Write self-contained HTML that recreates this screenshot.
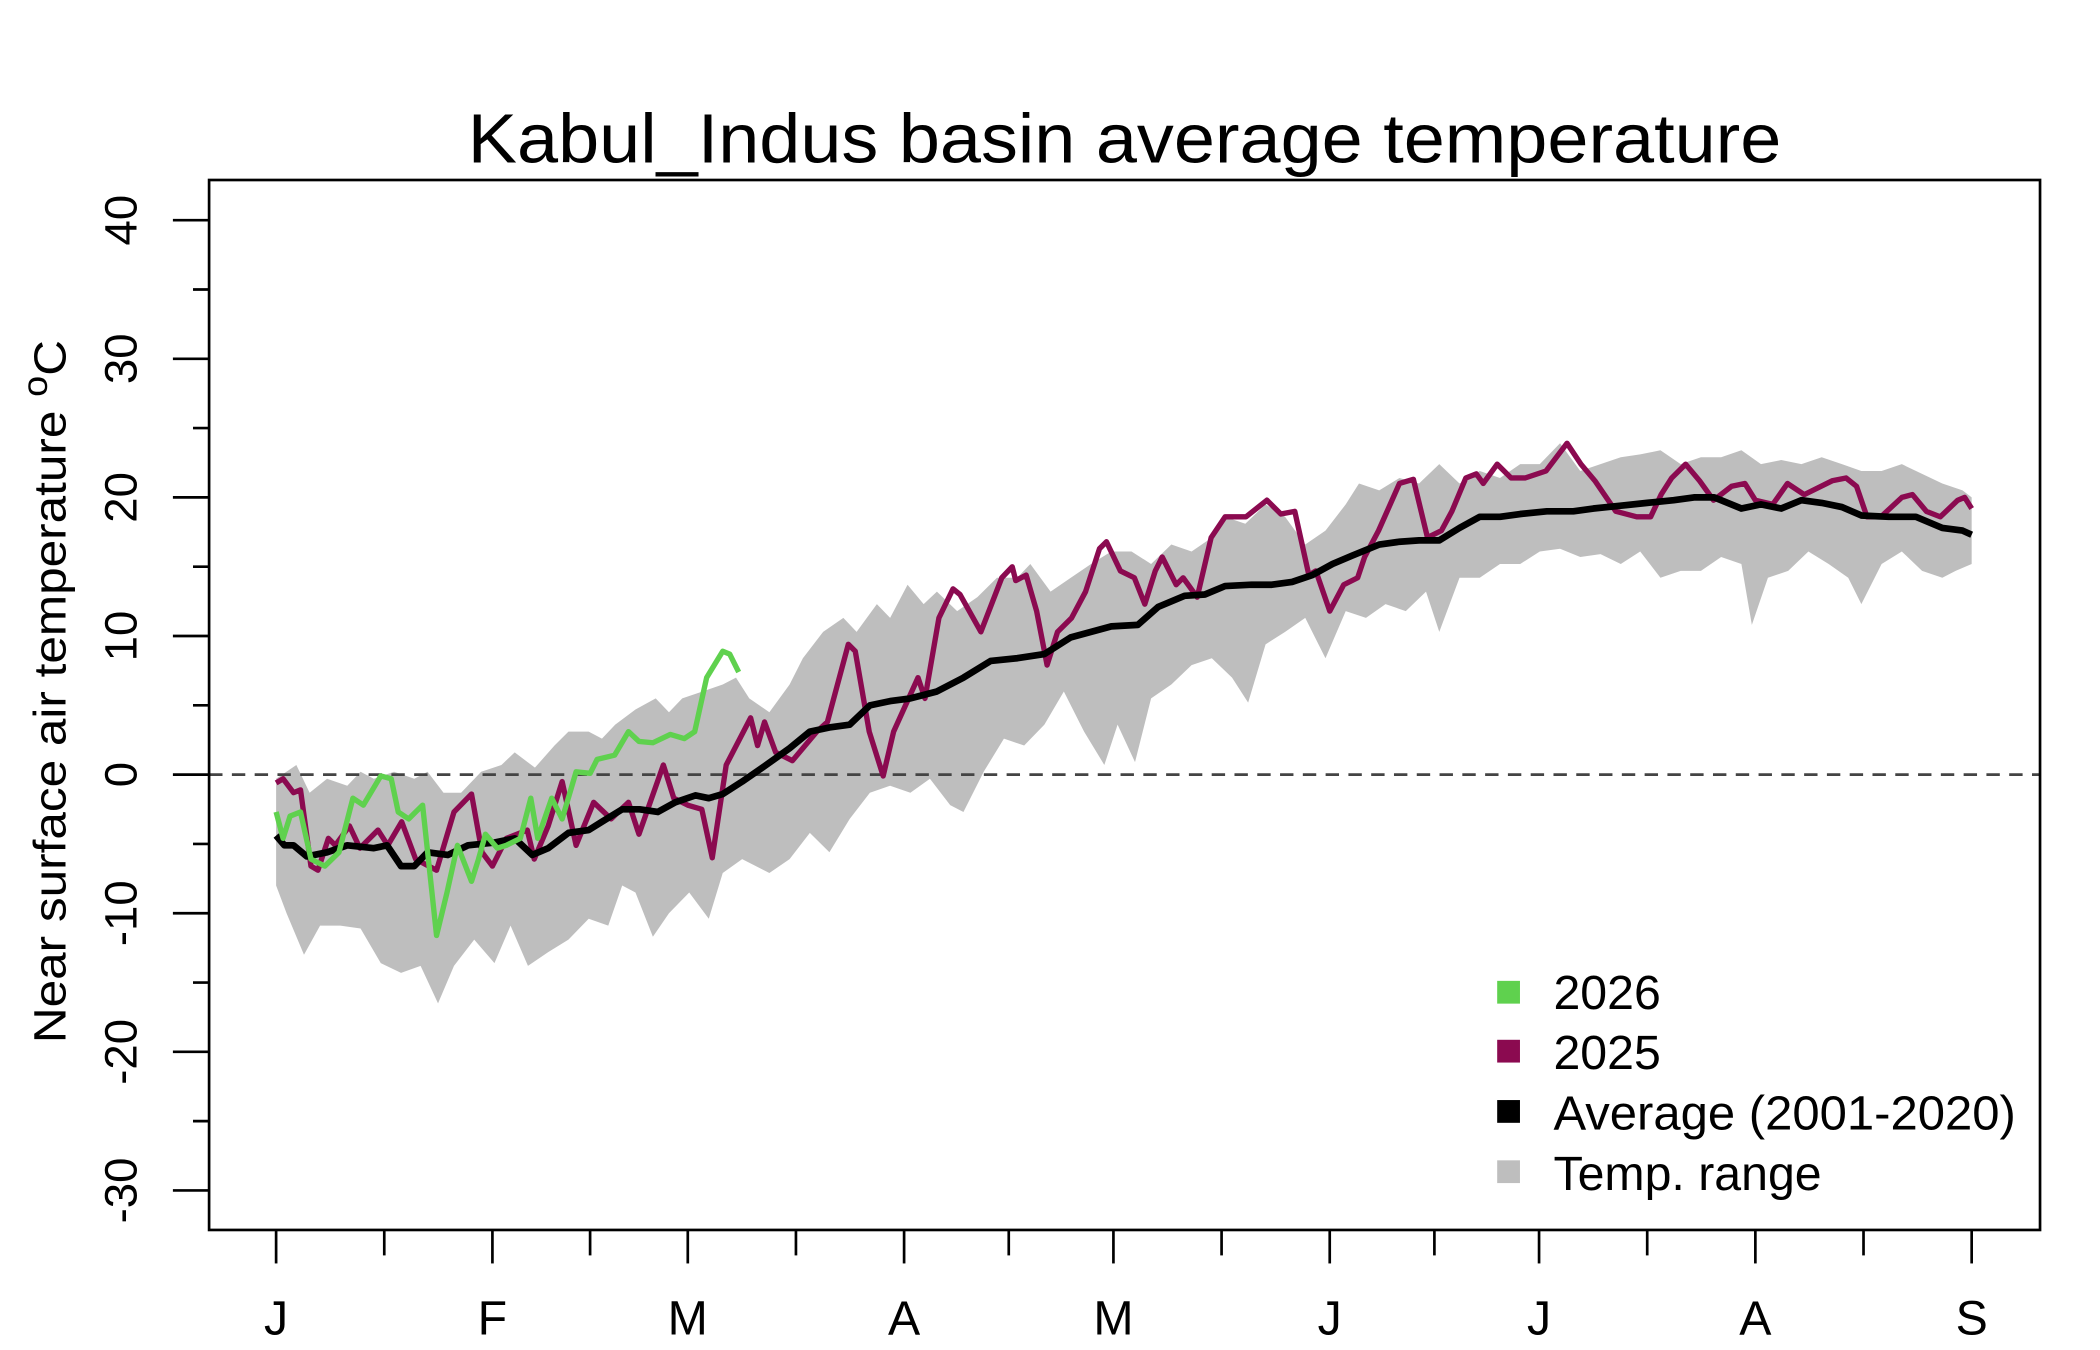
<!DOCTYPE html>
<html><head><meta charset="utf-8"><style>
html,body{margin:0;padding:0;background:#fff;}
svg{display:block;font-family:"Liberation Sans",sans-serif;}
</style></head><body>
<svg id="chart" width="2100" height="1350" viewBox="0 0 1560 1003" preserveAspectRatio="none" xmlns="http://www.w3.org/2000/svg">
<g transform="matrix(0.9957 0 0 0.995 -1 1.4)">
<text x="840" y="120" text-anchor="middle" font-size="52" textLength="980" lengthAdjust="spacingAndGlyphs">Kabul_Indus basin average temperature</text>
<text transform="translate(50,515) rotate(-90)" text-anchor="middle" font-size="34" textLength="525" lengthAdjust="spacingAndGlyphs">Near surface air temperature <tspan dy="-14" font-size="26">o</tspan><tspan dy="14">C</tspan></text>
<g id="band"></g>
<line x1="157" x2="1523" y1="577" y2="577" stroke="#444" stroke-width="2" stroke-dasharray="10,7"/>
<g id="series"></g>
<rect x="157" y="133" width="1366" height="784" fill="none" stroke="#000" stroke-width="2"/>
<g id="yaxis"></g>
<g id="xaxis"></g>
<g font-size="36">
 <g><rect x="1118" y="731" width="17" height="17" fill="#5fd14e"/><text x="1160" y="752">2026</text></g>
 <g><rect x="1118" y="775" width="17" height="17" fill="#8b0a50"/><text x="1160" y="797">2025</text></g>
 <g><rect x="1118" y="820" width="17" height="17" fill="#000"/><text x="1160" y="842" textLength="345" lengthAdjust="spacingAndGlyphs">Average (2001-2020)</text></g>
 <g><rect x="1118" y="865" width="17" height="17" fill="#bebebe"/><text x="1160" y="887">Temp. range</text></g>
</g>
</g>
</svg>
<script>
const monthLabels=["J","F","M","A","M","J","J","A","S"];
const monthStartDays=[0,31,59,90,120,151,181,212,243];
const yTicks=[-30,-20,-10,0,10,20,30,40];
const avgDays=[0,1.2,2.5,4.4,7.3,10.2,14,15.9,17.9,19.8,21.7,24.6,27.5,31.3,34.2,36.7,39,41.9,44.8,46.7,49.6,52.1,54.7,57.2,60.1,62,64,66.8,69.7,73.6,76.5,79.3,82.2,85.1,88,90.9,94.7,98.5,102.4,106.2,110.1,113.9,116.8,119.7,123.5,126.4,130.2,133.1,136,139.8,142.7,145.6,148.5,151.4,154.2,158.1,161,163.8,166.7,169.6,172.5,175.4,178.3,182.1,185.9,188.8,192.7,196.5,200.3,203.2,206.1,210,212.8,215.7,218.6,221.5,224.4,227.2,231.1,235,238.8,241.7,243];
const avgValues=[-4.4,-5.1,-5.1,-5.9,-5.6,-5.1,-5.3,-5.1,-6.6,-6.6,-5.6,-5.8,-5.1,-4.9,-4.6,-5.8,-5.3,-4.2,-4.0,-3.4,-2.5,-2.5,-2.7,-2.0,-1.5,-1.7,-1.4,-0.5,0.5,1.9,3.1,3.4,3.6,5.0,5.3,5.5,6.0,7.0,8.2,8.4,8.7,9.9,10.3,10.7,10.8,12.1,12.9,13.0,13.6,13.7,13.7,13.9,14.4,15.2,15.8,16.6,16.8,16.9,16.9,17.8,18.6,18.6,18.8,19.0,19.0,19.2,19.4,19.6,19.8,20.0,20.0,19.2,19.5,19.2,19.8,19.6,19.3,18.7,18.6,18.6,17.8,17.6,17.3];
const upperDays=[0,2.9,4.8,7.3,10.2,12.1,14,16.9,19.8,21.7,24,26.5,29.4,32.3,34.2,37.1,39.9,41.9,44.8,46.7,48.6,51.5,54.4,56.3,58.2,61.1,64,65.9,67.8,70.7,73.6,75.5,78.4,81.3,83.2,86.1,88,90.5,92.8,94.7,97.6,100.5,103.3,106.2,108.1,111,113.9,116.8,119.7,122.6,125.4,128.3,131.2,134.1,136,138.9,141.8,144.6,147.5,150.4,153.3,155.2,158.1,161,163.8,166.7,169.6,172.5,175.4,178.3,181.1,184,186.9,189.8,192.7,195.5,198.4,201.3,204.2,207.1,210,212.8,215.7,218.6,221.5,224.4,227.2,230.1,233,235.9,238.8,241.7,243];
const upperValues=[-0.3,0.7,-1.3,-0.3,-0.8,0.2,-0.3,0.2,-0.3,0.2,-1.3,-1.3,0.2,0.7,1.6,0.5,2.1,3.1,3.1,2.6,3.6,4.7,5.5,4.5,5.5,6.0,6.5,7.0,5.5,4.5,6.5,8.4,10.3,11.3,10.3,12.3,11.3,13.7,12.3,13.2,11.8,12.8,14.2,14.2,15.2,13.2,14.2,15.2,16.1,16.1,15.2,16.6,16.1,17.1,18.6,18.1,19.5,18.6,16.6,17.6,19.5,21.0,20.5,21.4,21.0,22.4,21.0,21.9,21.4,22.4,22.4,23.9,21.9,22.4,22.9,23.1,23.4,22.4,22.9,22.9,23.4,22.4,22.7,22.4,22.9,22.4,21.9,21.9,22.4,21.7,21.0,20.5,20.0];
const lowerDays=[0,1.5,4,6.3,9.2,12.1,15,17.9,20.7,23.2,25.5,28.4,31.3,33.6,36.1,39,41.9,44.8,47.6,49.6,51.5,54,56.3,59.2,62,64,66.8,70.7,73.6,76.5,79.3,82.2,85.1,88,90.9,93.7,96.6,98.5,101.4,104.3,107.2,110.1,112.9,115.8,118.7,120.6,123.1,125.4,128.3,131.2,134.1,137,139.3,141.8,144.6,147.5,150.4,153.3,156.2,159,161.9,164.8,166.7,169.6,172.5,175.4,178.3,181.1,184,186.9,189.8,192.7,195.5,198.4,201.3,204.2,207.1,210,211.5,213.8,216.7,219.6,222.5,225.3,227.2,230.1,233,235.9,238.8,240.7,243];
const lowerValues=[-8.0,-10.0,-13.0,-10.9,-10.9,-11.1,-13.6,-14.3,-13.8,-16.5,-13.8,-11.9,-13.6,-10.9,-13.8,-12.8,-11.9,-10.4,-10.9,-8.0,-8.5,-11.7,-10.0,-8.5,-10.4,-7.1,-6.1,-7.1,-6.1,-4.2,-5.6,-3.2,-1.3,-0.8,-1.3,-0.3,-2.2,-2.7,0.2,2.6,2.1,3.6,6.0,3.1,0.7,3.6,0.9,5.5,6.5,7.9,8.4,7.0,5.2,9.4,10.3,11.3,8.4,11.8,11.3,12.3,11.8,13.2,10.3,14.2,14.2,15.2,15.2,16.1,16.3,15.7,15.9,15.2,16.1,14.2,14.7,14.7,15.7,15.2,10.8,14.2,14.7,16.1,15.2,14.2,12.3,15.2,16.1,14.7,14.2,14.7,15.2];
const y2025Days=[0,1,2.5,3.5,5,6,7.5,8.5,10.5,12,14.6,16,18,20,23,25.5,28,29.5,31,33,36,37,39,41,43,45.5,48,50.5,52,55.5,57,59,61,62.5,64.5,68,69,70,71.6,74,77.5,79,82,83,85,87,88.5,92,93,95,97,98,101,104,105.5,106,107.5,109,110.5,112,114,116,118,119,121,123,124.5,126,127,129,130,132,134,136,139,142,144,146,148,149,151,153,155,156,158,161,163,165,167,168.5,170.5,172,173,175,177,179,182,185,187,189,192,195,197,198.5,200,202,204,206,208.6,210.5,212,214.5,216.6,219,223,225,226.5,228,230,233,234.5,236.5,238.5,241,242,243];
const y2025Values=[-0.6,-0.3,-1.3,-1.1,-6.6,-6.9,-4.6,-5.1,-3.7,-5.3,-4.0,-5.1,-3.4,-6.1,-6.9,-2.7,-1.4,-5.6,-6.6,-4.6,-4.0,-6.1,-3.7,-0.5,-5.1,-2.0,-3.2,-2.0,-4.3,0.7,-1.7,-2.2,-2.5,-6.0,0.7,4.1,2.1,3.8,1.6,1.0,3.1,3.8,9.4,8.9,3.1,-0.1,3.1,7.0,5.5,11.3,13.4,13.0,10.3,14.2,15.0,14.0,14.4,11.8,7.9,10.3,11.3,13.2,16.3,16.8,14.7,14.2,12.3,14.7,15.7,13.7,14.2,12.8,17.1,18.6,18.6,19.8,18.8,19.0,14.4,14.7,11.8,13.7,14.2,15.7,17.6,21.0,21.3,17.1,17.6,19.0,21.4,21.7,21.0,22.4,21.4,21.4,21.9,23.9,22.4,21.2,19.0,18.6,18.6,20.2,21.4,22.4,21.2,19.8,20.8,21.0,19.8,19.5,21.0,20.2,21.2,21.4,20.8,18.6,18.6,20.0,20.2,19.0,18.6,19.8,20.0,19.2];
const y2026Days=[0,1,2,3.5,5,7,9,11,12.5,15,16.5,17.5,19,20,21,23,24.5,26,28,29,30,31.7,33,35,36.5,37.5,39.5,41,43,45,46,48.5,50.5,52,54,56.5,58.5,60,61.7,64,65,66.3];
const y2026Values=[-2.7,-4.6,-3.0,-2.7,-6.1,-6.6,-5.6,-1.7,-2.2,-0.1,-0.3,-2.7,-3.2,-2.7,-2.2,-11.6,-8.5,-5.1,-7.7,-6.1,-4.3,-5.3,-5.1,-4.6,-1.7,-4.6,-1.7,-3.2,0.2,0.1,1.1,1.4,3.1,2.4,2.3,2.9,2.6,3.1,7.0,8.9,8.7,7.4];

const NS="http://www.w3.org/2000/svg";
const X0=207,PX_PER_DAY=(1472-207)/243,Y0=577,PX_PER_DEG=10.35;
function xs(d){return X0+d*PX_PER_DAY;}
function ys(v){return Y0-v*PX_PER_DEG;}
function mk(tag,attrs,parent){const e=document.createElementNS(NS,tag);for(const k in attrs)e.setAttribute(k,attrs[k]);parent.appendChild(e);return e;}
function pts(days,vals){const n=Math.min(days.length,vals.length);const a=[];for(let i=0;i<n;i++)a.push(xs(days[i]).toFixed(1)+","+ys(vals[i]).toFixed(1));return a;}

const band=document.getElementById('band');
const up=pts(upperDays,upperValues),lo=pts(lowerDays,lowerValues).reverse();
const poly=mk('polygon',{points:up.concat(lo).join(' '),fill:'#bebebe',stroke:'none'},band);



const series=document.getElementById('series');
const l25=mk('polyline',{points:pts(y2025Days,y2025Values).join(' '),fill:'none',stroke:'#8b0a50','stroke-width':4,'stroke-linejoin':'round'},series);


const lavg=mk('polyline',{points:pts(avgDays,avgValues).join(' '),fill:'none',stroke:'#000','stroke-width':5,'stroke-linejoin':'round'},series);


const l26=mk('polyline',{points:pts(y2026Days,y2026Values).join(' '),fill:'none',stroke:'#5fd14e','stroke-width':4,'stroke-linejoin':'round'},series);



const ya=document.getElementById('yaxis');
for(let v=-30;v<=40;v+=5){
  const major=v%10===0;
  const t=mk('line',{x1:157,x2:major?130:145,y1:ys(v),y2:ys(v),stroke:'#000','stroke-width':2},ya);
  
  
}
yTicks.forEach(v=>{
  const t=mk('text',{transform:`translate(103,${ys(v)}) rotate(-90)`,'text-anchor':'middle','font-size':34},ya);
  t.textContent=String(v);
  
  
});
const xa=document.getElementById('xaxis');
monthStartDays.forEach((d,i)=>{
  const t=mk('line',{x1:xs(d),x2:xs(d),y1:917,y2:942,stroke:'#000','stroke-width':2},xa);
  
  
  if(i<monthStartDays.length-1){
    const m=(d+monthStartDays[i+1])/2;
    const t2=mk('line',{x1:xs(m),x2:xs(m),y1:917,y2:936,stroke:'#000','stroke-width':2},xa);
    
    
  }
  const lb=mk('text',{x:xs(d),y:995,'text-anchor':'middle','font-size':36},xa);
  lb.textContent=monthLabels[i];
  
  
});
</script>
</body></html>
